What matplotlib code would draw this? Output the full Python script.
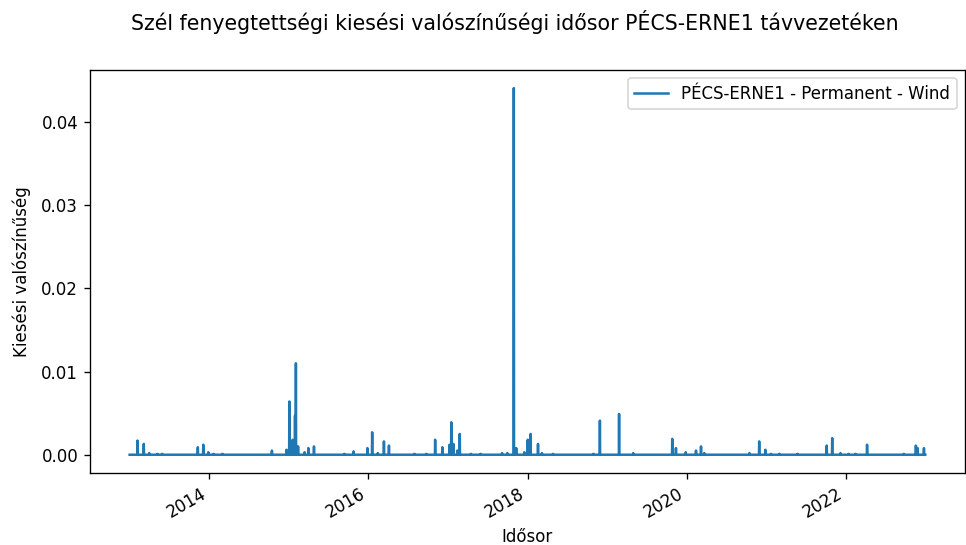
import numpy as np
import pandas as pd
import matplotlib
matplotlib.use('Agg')
import matplotlib.pyplot as plt
import matplotlib.dates as mdates

# daily wind outage probability, PÉCS-ERNE1 (spikes, zero elsewhere)
start_date = '2013-01-01'
end_date = '2022-12-31'

spike_dates = [
    '2013-02-06', '2013-03-07', '2013-04-01', '2013-05-08', '2013-05-30',
    '2013-11-10', '2013-12-05', '2013-12-28', '2014-01-22', '2014-03-03',
    '2014-10-16', '2014-12-22', '2015-01-04', '2015-01-19', '2015-01-30',
    '2015-02-03', '2015-02-13', '2015-03-15', '2015-04-01', '2015-04-27',
    '2015-09-13', '2015-10-26', '2015-12-28', '2016-01-19', '2016-02-14',
    '2016-03-13', '2016-04-05', '2016-07-31', '2016-09-23', '2016-11-03',
    '2016-12-06', '2017-01-08', '2017-01-16', '2017-01-26', '2017-02-13',
    '2017-02-24', '2017-04-16', '2017-05-31', '2017-09-06', '2017-09-30',
    '2017-10-30', '2017-11-10', '2017-12-17', '2018-01-02', '2018-01-15',
    '2018-02-18', '2018-03-08', '2018-04-28', '2018-10-30', '2018-11-29',
    '2019-02-25', '2019-05-01', '2019-10-27', '2019-11-13', '2019-12-28',
    '2020-02-13', '2020-03-07', '2020-03-22', '2020-10-15', '2020-11-29',
    '2020-12-27', '2021-01-22', '2021-03-01', '2021-05-24', '2021-10-05',
    '2021-10-30', '2021-12-07', '2022-01-14', '2022-02-14', '2022-04-08',
    '2022-09-24', '2022-11-18', '2022-11-26', '2022-12-25',
]
spike_values = [
    0.0017, 0.0013, 0.0002, 0.0001, 0.0001,
    0.0009, 0.0012, 0.0003, 0.0001, 0.0001,
    0.0005, 0.0006, 0.0064, 0.0018, 0.0047,
    0.0110, 0.0010, 0.0003, 0.0008, 0.0010,
    0.0001, 0.0004, 0.0008, 0.0027, 0.0002,
    0.0016, 0.0011, 0.0001, 0.0001, 0.0018,
    0.0009, 0.0012, 0.0039, 0.0013, 0.0005,
    0.0025, 0.0001, 0.0001, 0.0002, 0.0002,
    0.0441, 0.0008, 0.0003, 0.0018, 0.0025,
    0.0013, 0.0002, 0.0001, 0.0001, 0.0041,
    0.0049, 0.0002, 0.0019, 0.0008, 0.0003,
    0.0005, 0.0010, 0.0002, 0.0002, 0.0016,
    0.0006, 0.0001, 0.0001, 0.0001, 0.0011,
    0.0020, 0.0002, 0.0001, 0.0001, 0.0012,
    0.0001, 0.0011, 0.0008, 0.0008,
]

idx = pd.date_range(start_date, end_date, freq='D')
prob = pd.Series(0.0, index=idx)
prob.loc[pd.to_datetime(spike_dates)] = spike_values

fig, ax = plt.subplots(figsize=(8.05, 4.542), dpi=120)
ax.plot(prob.index, prob.values, label='PÉCS-ERNE1 - Permanent - Wind')
ax.xaxis.set_major_locator(mdates.YearLocator(2))
ax.xaxis.set_major_formatter(mdates.DateFormatter('%Y'))
ax.set_xlabel('Idősor')
ax.set_ylabel('Kiesési valószínűség', labelpad=6)
ax.legend(loc='upper right')
fig.autofmt_xdate()
fig.subplots_adjust(left=0.093, right=0.999, bottom=0.132, top=0.872)
fig.suptitle('Szél fenyegtettségi kiesési valószínűségi idősor PÉCS-ERNE1 távvezetéken',
             x=0.533, y=0.96, va='center', fontsize=12.3)

plt.savefig('out.png', dpi=120)
